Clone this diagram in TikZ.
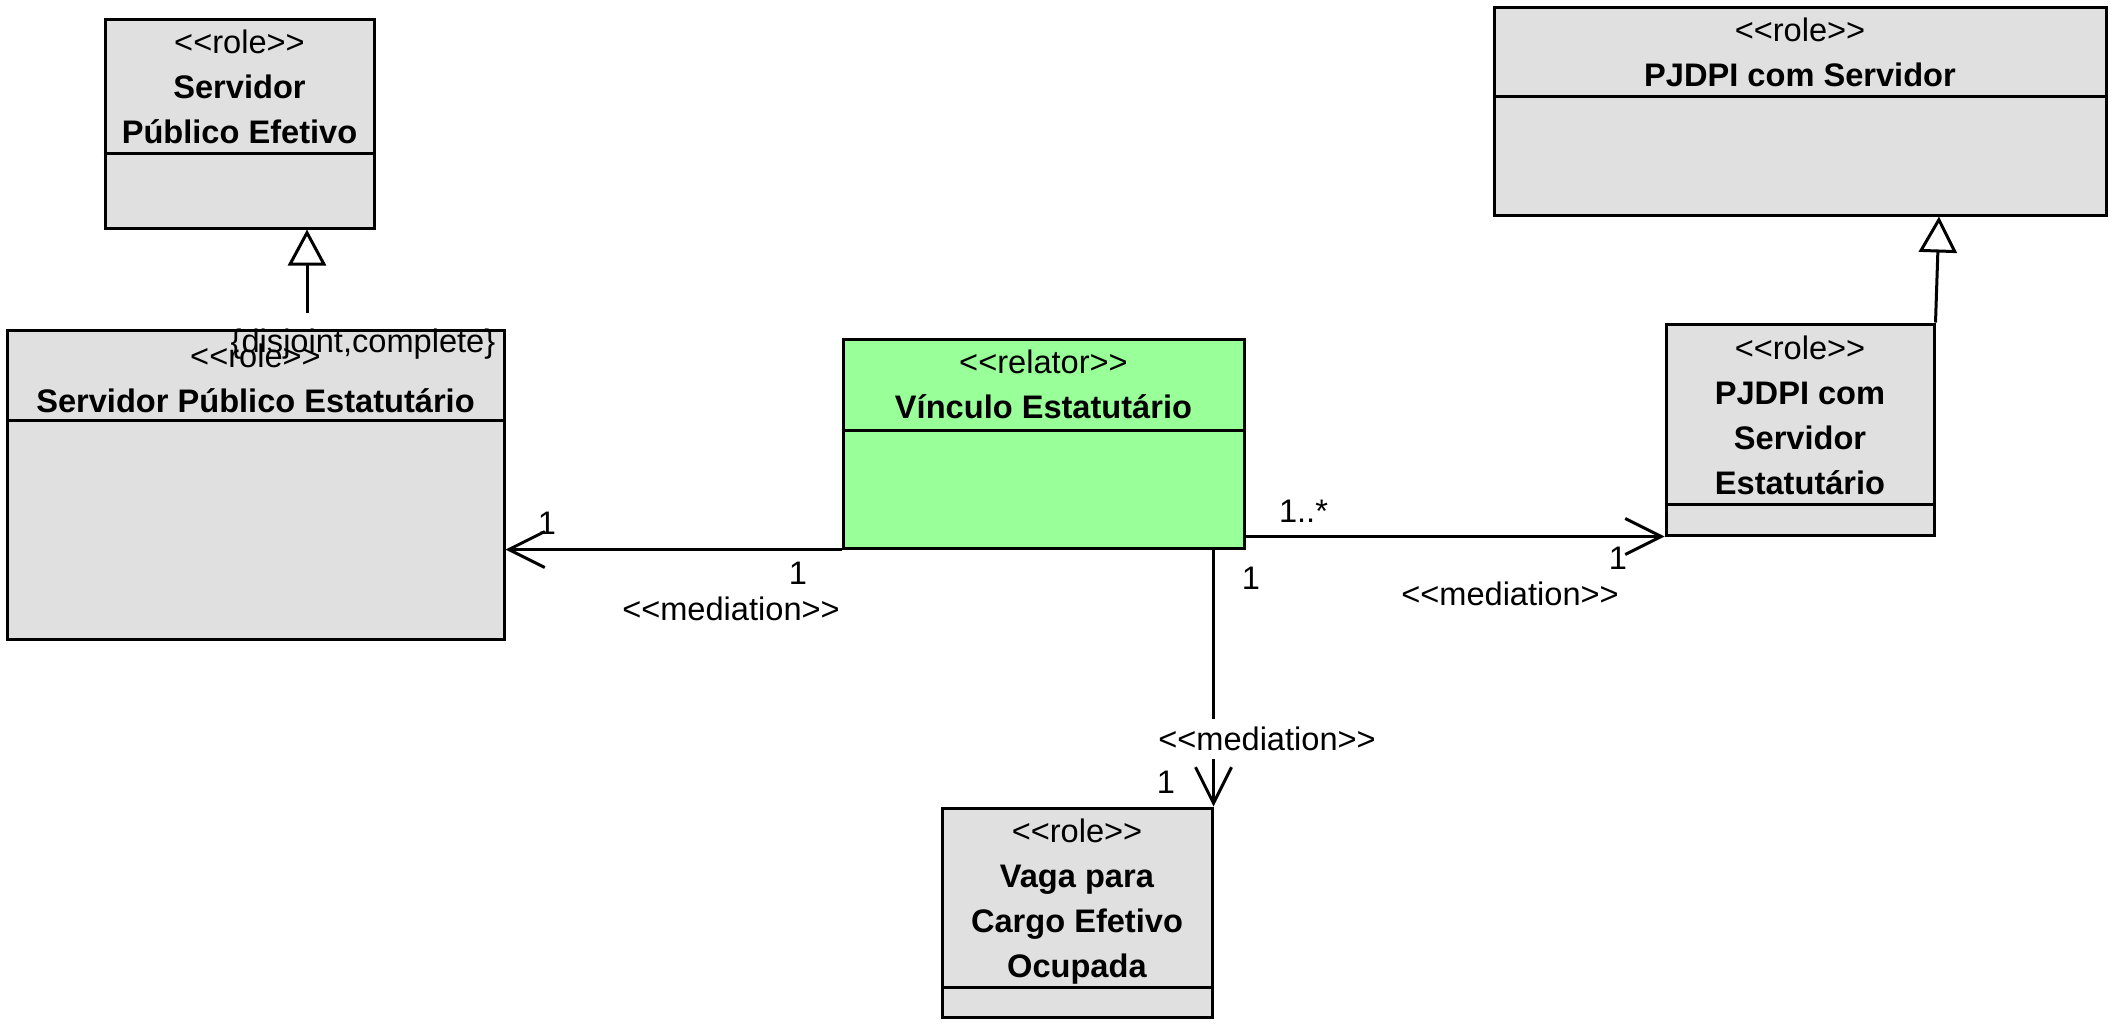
\documentclass[tikz,border=0pt]{standalone}
\usepackage{fontspec}
\newfontfamily\umlfont{Liberation Sans}
\usetikzlibrary{arrows.meta, positioning}
\definecolor{rolegray}{HTML}{E0E0E0}
\definecolor{relatorgreen}{HTML}{99FF99}

\begin{document}
\begin{tikzpicture}[
  x=0.5pt, y=-0.5pt,
  every node/.style={font=\umlfont\fontsize{16.3}{22.5}\selectfont},
  classbox/.style={draw, rectangle, line width=1.5pt, fill=rolegray, inner sep=0pt},
  relatorbox/.style={classbox, fill=relatorgreen},
  header/.style={align=center, inner sep=0pt},
  divider/.style={line width=1.5pt},
  mult/.style={inner sep=0pt},
  mediation/.style={line width=1.5pt, -{Straight Barb[length=18pt, width=18pt, line width=1.5pt]}},
  generalization/.style={line width=1.5pt, -{Triangle[open, length=18pt, width=19pt, line width=1.5pt, fill=white]}}
]
  \useasboundingbox (0,0) rectangle (2118,1029);

  % classes
  \node[classbox, minimum width=134.5pt, minimum height=104.5pt] (efetivo) at (239.5,123.5) {};
  \node[classbox, minimum width=248.5pt, minimum height=154.5pt] (estatutario) at (255.5,484.5) {};
  \node[relatorbox, minimum width=200.5pt, minimum height=104.5pt] (vinculo) at (1043.5,443.5) {};
  \node[classbox, minimum width=306pt, minimum height=104pt] (pjdpi) at (1800,111) {};
  \node[classbox, minimum width=134pt, minimum height=105.5pt] (pjdpiest) at (1800,429.5) {};
  \node[classbox, minimum width=135pt, minimum height=104.5pt] (vaga) at (1077,912.5) {};

  \foreach \cls/\yy in {efetivo/153, estatutario/420, vinculo/430, pjdpi/96, pjdpiest/504, vaga/987}
    \draw[divider] (\cls.west |- 0,\yy) -- (\cls.east |- 0,\yy);

  \node[header, below=6pt of efetivo.north] (efetivohead) {<<role>>\\\textbf{Servidor}\\\textbf{Público Efetivo}};
  \node[header, below=7.5pt of estatutario.north] (estatutariohead) {<<role>>\\\textbf{Servidor Público Estatutário}};
  \node[header, below=6pt of vinculo.north] (vinculohead) {<<relator>>\\\textbf{Vínculo Estatutário}};
  \node[header, below=6pt of pjdpi.north] (pjdpihead) {<<role>>\\\textbf{PJDPI com Servidor}};
  \node[header, below=6.5pt of pjdpiest.north] (pjdpiesthead) {<<role>>\\\textbf{PJDPI com}\\\textbf{Servidor}\\\textbf{Estatutário}};
  \node[header, below=6pt of vaga.north] (vagahead) {<<role>>\\\textbf{Vaga para}\\\textbf{Cargo Efetivo}\\\textbf{Ocupada}};

  % generalizations
  \coordinate (estatutariotop) at (307,313);
  \coordinate (pjdpifoot) at (1939,0 |- pjdpi.south);
  \draw[generalization] (estatutariotop) -- (estatutariotop |- efetivo.south);
  \draw[generalization] (pjdpiest.north east) -- (pjdpifoot);
  \node (gset) at (363,344) {\{disjoint,complete\}};

  % mediations
  \draw[mediation] (vinculo.south west) -- (vinculo.south west -| estatutario.east);
  \draw[mediation] (vinculo.east |- pjdpiest.south west) -- (pjdpiest.south west);
  \draw[mediation] (vinculo.south -| vaga.north east) -- (vaga.north east);

  \node[mult] (m1) at (547,523) {1};
  \node[mult] (m2) at (798,573) {1};
  \node (med1) at (731,609) {<<mediation>>};
  \node[mult] (m3) at (1303.5,511) {1..*};
  \node[mult] (m4) at (1618,558) {1};
  \node (med2) at (1510,594) {<<mediation>>};
  \node[mult] (m5) at (1251,578) {1};
  \node[mult] (m6) at (1166,782) {1};
  \node[fill=white, inner sep=4pt] (med3) at (1267,739) {<<mediation>>};
\end{tikzpicture}
\end{document}
